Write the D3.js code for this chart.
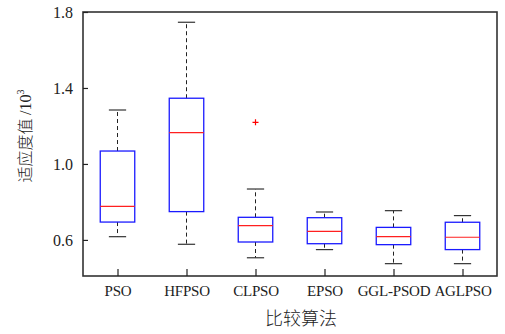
<!DOCTYPE html>
<html>
<head>
<meta charset="utf-8">
<script src="https://cdn.jsdelivr.net/npm/d3@7"></script>
<style>
  html, body { margin: 0; padding: 0; background: #fff; }
  svg text { font-family: "Liberation Serif", "Times New Roman", serif; fill: #222; }
  .cjk { font-family: "Noto Sans CJK SC", serif; font-weight: 300; }
</style>
</head>
<body>
<svg id="chart" width="505" height="334"></svg>
<script>
// Algorithms compared
const algorithms = ["PSO", "HFPSO", "CLPSO", "EPSO", "GGL-PSOD", "AGLPSO"];
// Box-plot statistics of fitness (×10^3)
const whiskerLow  = [0.617, 0.577, 0.506, 0.549, 0.475, 0.475];
const quartile1   = [0.694, 0.749, 0.589, 0.580, 0.575, 0.549];
const medians     = [0.777, 1.165, 0.675, 0.645, 0.617, 0.614];
const quartile3   = [1.068, 1.346, 0.719, 0.717, 0.666, 0.693];
const whiskerHigh = [1.284, 1.746, 0.868, 0.747, 0.754, 0.728];
// Outliers: [algorithm index, value]
const outliers = [[2, 1.219]];
// Y-axis tick values
const yTicks = [0.6, 1.0, 1.4, 1.8];

const svg = d3.select("#chart");
const m = { left: 83, right: 8, top: 12, bottom: 58 };
const W = 505, H = 334;

const x = d3.scalePoint().domain(algorithms)
  .range([m.left, W - m.right]).padding(0.5);
const step = x.step();
const y = d3.scaleLinear().domain([0.41, 1.8]).range([H - m.bottom, m.top]);

const boxW = step * 0.5, capW = step * 0.25;

const data = algorithms.map((a, i) => ({
  name: a, lo: whiskerLow[i], q1: quartile1[i], med: medians[i],
  q3: quartile3[i], hi: whiskerHigh[i]
}));

const g = svg.append("g");

data.forEach(d => {
  const cx = x(d.name);
  // whiskers (dashed)
  g.append("line").attr("x1", cx).attr("x2", cx)
    .attr("y1", y(d.q3)).attr("y2", y(d.hi))
    .attr("stroke", "#222").attr("stroke-width", 1).attr("stroke-dasharray", "4,3");
  g.append("line").attr("x1", cx).attr("x2", cx)
    .attr("y1", y(d.q1)).attr("y2", y(d.lo))
    .attr("stroke", "#222").attr("stroke-width", 1).attr("stroke-dasharray", "4,3");
  // caps
  [d.hi, d.lo].forEach(v => {
    g.append("line").attr("x1", cx - capW / 2).attr("x2", cx + capW / 2)
      .attr("y1", y(v)).attr("y2", y(v))
      .attr("stroke", "#333").attr("stroke-width", 1.2);
  });
  // box
  g.append("rect").attr("x", cx - boxW / 2).attr("y", y(d.q3))
    .attr("width", boxW).attr("height", y(d.q1) - y(d.q3))
    .attr("fill", "none").attr("stroke", "#1a1aff").attr("stroke-width", 1.3);
  // median
  g.append("line").attr("x1", cx - boxW / 2).attr("x2", cx + boxW / 2)
    .attr("y1", y(d.med)).attr("y2", y(d.med))
    .attr("stroke", "#ff2020").attr("stroke-width", 1.2);
});

// outliers as red plus marks
outliers.forEach(([i, v]) => {
  const cx = x(algorithms[i]), cy = y(v);
  g.append("path").attr("d", `M${cx - 3},${cy}H${cx + 3}M${cx},${cy - 3}V${cy + 3}`)
    .attr("stroke", "#ff0000").attr("stroke-width", 1.2);
});

// frame
const x0 = m.left, x1 = W - m.right, y0 = H - m.bottom, y1 = m.top;
svg.append("rect").attr("x", x0).attr("y", y1)
  .attr("width", x1 - x0).attr("height", y0 - y1)
  .attr("fill", "none").attr("stroke", "#333").attr("stroke-width", 1.6);

// y axis: inward ticks
const yAxis = d3.axisLeft(y).tickValues(yTicks).tickFormat(d3.format(".1f"))
  .tickSizeInner(-5).tickSizeOuter(0).tickPadding(10);
const ya = svg.append("g").attr("transform", `translate(${x0},0)`).call(yAxis);
ya.select(".domain").remove();
ya.selectAll(".tick line").attr("stroke", "#222").attr("stroke-width", 1.2);
ya.selectAll(".tick text").attr("font-size", 16).attr("fill", "#222")
  .attr("font-family", "Liberation Serif, serif");

// x axis: inward ticks
const xAxis = d3.axisBottom(x).tickSizeInner(-7).tickSizeOuter(0).tickPadding(9);
const xa = svg.append("g").attr("transform", `translate(0,${y0})`).call(xAxis);
xa.select(".domain").remove();
xa.selectAll(".tick line").attr("stroke", "#222").attr("stroke-width", 1.2);
xa.selectAll(".tick text").attr("font-size", 15).attr("fill", "#222")
  .attr("letter-spacing", "-0.2px")
  .attr("font-family", "Liberation Serif, serif");

// axis titles
svg.append("text").attr("class", "cjk")
  .attr("x", 301).attr("y", 325)
  .attr("text-anchor", "middle").attr("font-size", 18).attr("fill", "#333")
  .text("比较算法");

const yt = svg.append("text")
  .attr("transform", `translate(31,136) rotate(-90)`)
  .attr("text-anchor", "middle").attr("font-size", 16).attr("fill", "#333");
yt.append("tspan").attr("class", "cjk").text("适应度值 ");
yt.append("tspan").text("/10");
yt.append("tspan").attr("dy", -7).attr("font-size", 10).text("3");
</script>
</body>
</html>
